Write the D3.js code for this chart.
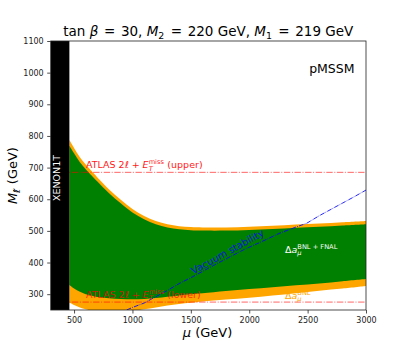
<!DOCTYPE html>
<html><head><meta charset="utf-8">
<script src="https://cdn.jsdelivr.net/npm/d3@7"></script>
<style>html,body{margin:0;padding:0;background:#fff;}svg text{white-space:pre;}</style>
</head><body>
<script>
// ---------------- data ----------------
const muGrid     = [460, 500, 550, 600, 650, 700, 800, 900, 1000, 1100, 1200, 1300, 1400, 1500, 1600, 1800, 2000, 2200, 2400, 2600, 2800, 3000];
const bnlUpper   = [787, 762, 733, 710, 689, 669, 631, 598, 569, 547, 531, 521, 515, 512, 511, 511, 513, 516, 520, 523, 527, 531];
const fnalUpper  = [769, 745, 717, 695, 675, 656, 619, 587, 558, 537, 521, 511, 505, 502, 501, 501, 503, 506, 510, 513, 517, 521];
const fnalLower  = [329, 318, 308, 300, 295, 291, 287, 285, 284, 285, 288, 292, 296, 300, 303, 310, 316, 322, 328, 334, 341, 348];
const bnlLower   = [274, 266, 258, 252, 248, 246, 244, 244, 247, 252, 258, 264, 269, 273, 277, 283, 289, 296, 303, 311, 318, 326];
const vacMu      = [950, 1000, 1100, 1200, 1300, 1407, 1500, 1600, 1700, 1835, 1950, 2100, 2263, 2400, 2492, 2600, 2700, 2800, 2900, 3000];
const vacM       = [250, 258, 272, 292, 312, 335, 352, 372, 392, 418, 440, 465, 493, 512, 524, 548, 568, 588, 608, 629];
const xenonMu    = 460;
const atlasUpperM = 685;
const atlasLowerM = 275;
const xTicks = [500, 1000, 1500, 2000, 2500, 3000];
const yTicks = [300, 400, 500, 600, 700, 800, 900, 1000, 1100];
const xDomain = [300, 3000];
const yDomain = [250, 1100];

// ---------------- layout ----------------
const W = 407, H = 349;
const L = 50.7, R = 366, T = 41, B = 310;
const FONT = '"DejaVu Sans", sans-serif';

const svg = d3.select('body').append('svg').attr('width', W).attr('height', H)
  .style('font-family', FONT);

const x = d3.scaleLinear().domain(xDomain).range([L, R]);
const y = d3.scaleLinear().domain(yDomain).range([B, T]);

svg.append('defs').append('clipPath').attr('id', 'clip')
  .append('rect').attr('x', L).attr('y', T).attr('width', R - L).attr('height', B - T);

const plot = svg.append('g').attr('clip-path', 'url(#clip)');

const band = (up, lo) => d3.area()
  .x((d, i) => x(muGrid[i]))
  .y0((d, i) => y(lo[i]))
  .y1((d, i) => y(up[i]))
  .curve(d3.curveCatmullRom.alpha(0.5))(muGrid);

plot.append('path').attr('d', band(bnlUpper, bnlLower)).attr('fill', '#ffa500');
plot.append('path').attr('d', band(fnalUpper, fnalLower)).attr('fill', '#008000');

// vacuum stability
plot.append('path')
  .attr('d', d3.line().x((d, i) => x(vacMu[i])).y((d, i) => y(vacM[i]))(vacMu))
  .attr('fill', 'none').attr('stroke', '#0000ff').attr('stroke-width', 1)
  .attr('stroke-dasharray', '4.8,1.2,0.8,1.2').attr('opacity', 0.85);

// ATLAS lines
[atlasUpperM, atlasLowerM].forEach(m => {
  plot.append('line').attr('x1', L).attr('x2', R).attr('y1', y(m)).attr('y2', y(m))
    .attr('stroke', '#ff0000').attr('stroke-width', 1).attr('opacity', 0.6)
    .attr('stroke-dasharray', '6.4,1.6,1,1.6');
});

// XENON1T excluded
plot.append('rect').attr('x', x(xDomain[0])).attr('y', T)
  .attr('width', x(xenonMu) - x(xDomain[0])).attr('height', B - T).attr('fill', '#000');

// ---------------- rich text helper ----------------
function richText(parent, px, py, size, fill, segs, opt) {
  opt = opt || {};
  const outer = parent.append('g');
  const g = outer.append('g').attr('fill', fill);
  if (opt.opacity) g.attr('opacity', opt.opacity);
  let cx = 0;
  segs.forEach(s => {
    if (s.sub !== undefined || s.sup !== undefined) {
      const ss = size * 0.7;
      let w = 0;
      if (s.sup !== undefined) {
        const t = g.append('text').attr('x', cx).attr('y', -size * 0.4)
          .style('font-size', ss + 'px').style('font-style', s.supIt ? 'italic' : 'normal')
          .attr('xml:space', 'preserve').text(s.sup);
        w = Math.max(w, t.node().getComputedTextLength());
      }
      if (s.sub !== undefined) {
        const t = g.append('text').attr('x', cx).attr('y', size * (s.sup !== undefined ? 0.3 : 0.22))
          .style('font-size', ss + 'px').style('font-style', s.subIt ? 'italic' : 'normal')
          .attr('xml:space', 'preserve').text(s.sub);
        w = Math.max(w, t.node().getComputedTextLength());
      }
      cx += w + size * 0.05;
    } else {
      const t = g.append('text').attr('x', cx).attr('y', 0)
        .style('font-size', size + 'px').style('font-style', s.it ? 'italic' : 'normal')
        .attr('xml:space', 'preserve').text(s.t);
      cx += t.node().getComputedTextLength();
    }
  });
  let off = 0;
  if (opt.anchor === 'middle') off = -cx / 2;
  else if (opt.anchor === 'end') off = -cx;
  g.attr('transform', `translate(${off},0)`);
  outer.attr('transform', `translate(${px},${py}) rotate(${opt.rotate || 0})`);
  return outer;
}

// labels inside plot
const lab = svg.append('g');
richText(lab, 86, 167.7, 9.5, '#ff0000', [
  {t: 'ATLAS 2'}, {t: 'ℓ', it: true}, {t: ' + '}, {t: 'E', it: true},
  {sub: 'T', subIt: true, sup: 'miss'}, {t: ' (upper)'}
], {opacity: 0.9});
richText(lab, 86, 297.5, 9.5, '#ff0000', [
  {t: 'ATLAS 2'}, {t: 'ℓ', it: true}, {t: ' + '}, {t: 'E', it: true},
  {sub: 'T', subIt: true, sup: 'miss'}, {t: ' (lower)'}
], {opacity: 0.75});

richText(lab, 285, 252.5, 9.5, '#ffffff', [
  {t: 'Δ'}, {t: 'a', it: true}, {sub: 'μ', subIt: true, sup: 'BNL + FNAL'}
]);
richText(lab, 285, 298.5, 9.5, '#ffa500', [
  {t: 'Δ'}, {t: 'a', it: true}, {sub: 'μ', subIt: true, sup: 'BNL'}
]);

lab.append('text').attr('x', 227.5).attr('y', 251.7)
  .attr('transform', 'rotate(-29,227.5,251.7)')
  .attr('text-anchor', 'middle').attr('dy', '0.35em')
  .style('font-size', '9.8px').attr('fill', '#0000ff').attr('opacity', 0.85)
  .text('Vacuum stability');

lab.append('text').attr('x', 354.5).attr('y', 73.3).attr('text-anchor', 'end')
  .style('font-size', '12.5px').attr('fill', '#000').text('pMSSM');

lab.append('text').attr('x', 60.3).attr('y', 178)
  .attr('transform', 'rotate(-90,60.3,178)')
  .attr('text-anchor', 'middle')
  .style('font-size', '9.5px').attr('fill', '#fff').text('XENON1T');

// ---------------- axes ----------------
const fmt = d3.format('d');
const xAxis = svg.append('g').attr('transform', `translate(0,${B})`)
  .call(d3.axisBottom(x).tickValues(xTicks).tickFormat(fmt).tickSize(3.5).tickPadding(3.5).tickSizeOuter(0));
const yAxis = svg.append('g').attr('transform', `translate(${L},0)`)
  .call(d3.axisLeft(y).tickValues(yTicks).tickFormat(fmt).tickSize(3.5).tickPadding(3.5).tickSizeOuter(0));
[xAxis, yAxis].forEach(a => {
  a.select('.domain').remove();
  a.selectAll('line').attr('stroke', '#222').attr('stroke-width', 0.8);
  a.selectAll('text').style('font-family', FONT).style('font-size', '8px').attr('fill', '#222');
});

svg.append('rect').attr('x', L).attr('y', T).attr('width', R - L).attr('height', B - T)
  .attr('fill', 'none').attr('stroke', '#222').attr('stroke-width', 0.8);

// axis titles
richText(svg, 207.5, 337, 13, '#000', [{t: 'μ', it: true}, {t: ' (GeV)'}], {anchor: 'middle'});
richText(svg, 17, 175.5, 13, '#000', [{t: 'M', it: true}, {sub: 'ℓ̃', subIt: true}, {t: ' (GeV)'}], {anchor: 'middle', rotate: -90});

// title
richText(svg, 208.3, 36, 13.5, '#000', [
  {t: 'tan '}, {t: 'β', it: true}, {t: '\u200A = \u200A30, '}, {t: 'M', it: true}, {sub: '2'},
  {t: '\u200A = \u200A220 GeV, '}, {t: 'M', it: true}, {sub: '1'}, {t: '\u200A = \u200A219 GeV'}
], {anchor: 'middle'});
</script>
</body></html>
